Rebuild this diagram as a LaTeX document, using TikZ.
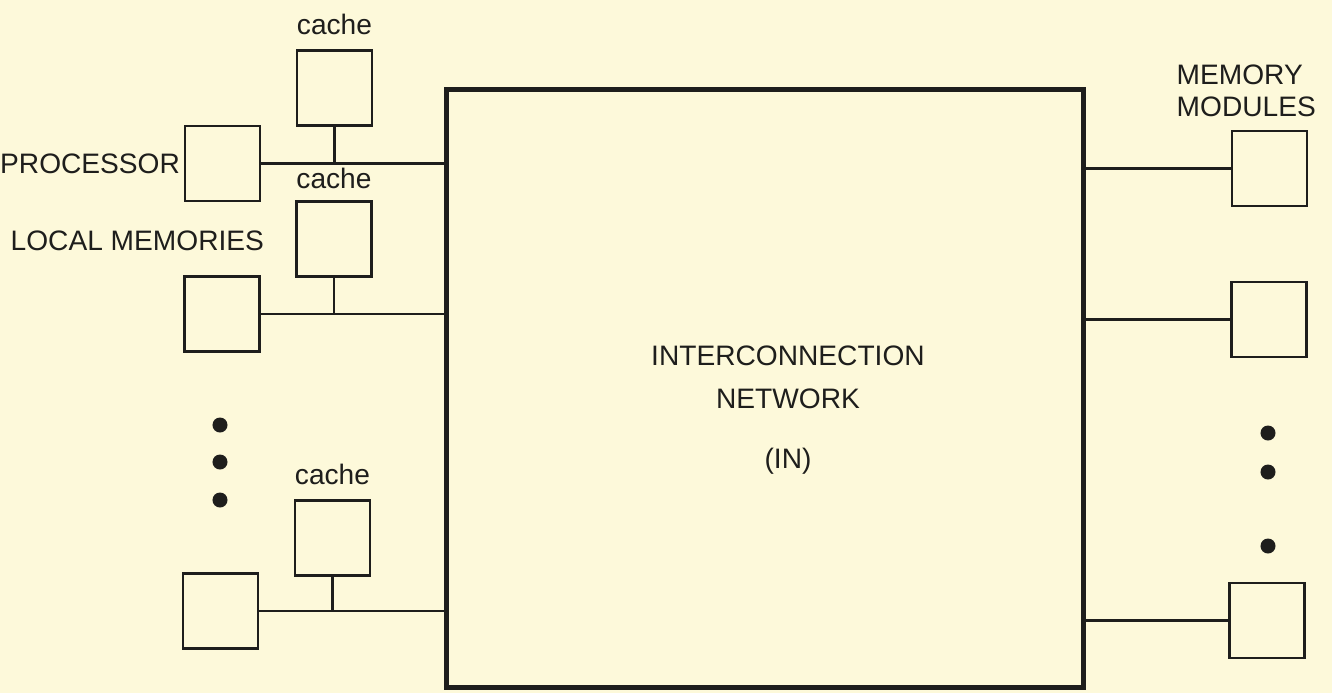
\documentclass[tikz,border=0pt]{standalone}
\usepackage{fontspec}
\setmainfont{Liberation Sans}
\usepackage{xcolor}
\usetikzlibrary{positioning}
\definecolor{paper}{RGB}{253,249,218}
\definecolor{ink}{RGB}{30,30,28}

\begin{document}
\begin{tikzpicture}[x=0.01cm, y=-0.01cm, ink,
    unit/.style={draw, line width=0.75pt, minimum size=0.75cm, inner sep=0pt},
    lbl/.style={font=\fontsize{8}{9.1}\selectfont, inner sep=0pt},
    dot/.style={circle, fill, inner sep=0pt, minimum size=0.15cm},
    wire/.style={line width=0.75pt}]
  \fill[paper] (0,0) rectangle (1332,693);

  % interconnection network
  \node[draw, line width=1.4pt, minimum width=6.36cm, minimum height=5.97cm] (net) at (765,388.5) {};
  \node[lbl, anchor=base] (netA) at (788,365) {INTERCONNECTION};
  \node[lbl, anchor=base] (netB) at (788,408) {NETWORK};
  \node[lbl, anchor=base] (netC) at (788,468) {(IN)};

  % processor 1 with cache
  \node[unit] (proc1) at (222.5,163.5) {};
  \node[unit] (cache1) at (334.5,88) {};
  \node[lbl, above=0.14cm of cache1] (cacheA) {cache};
  \node[lbl, left=0.03cm of proc1] (proclbl) {PROCESSOR};
  \draw[wire] (proc1) -- (proc1 -| net.west);
  \draw[wire] (cache1) -- (cache1 |- proc1);

  % processor 2 with cache
  \node[lbl, anchor=base west] (locallbl) at (10,250) {LOCAL MEMORIES};
  \node[unit] (proc2) at (222,314) {};
  \node[unit] (cache2) at (334,239) {};
  \node[lbl, above=0.11cm of cache2] (cacheB) {cache};
  \draw[wire] (proc2) -- (proc2 -| net.west);
  \draw[wire] (cache2) -- (cache2 |- proc2);

  \node[dot] (ldot1) at (220,425) {};
  \node[dot] (ldot2) at (220,462) {};
  \node[dot] (ldot3) at (220,500) {};

  % processor n with cache
  \node[unit] (proc3) at (220.5,611) {};
  \node[unit] (cache3) at (332.5,538) {};
  \node[lbl, above=0.14cm of cache3] (cacheC) {cache};
  \draw[wire] (proc3) -- (proc3 -| net.west);
  \draw[wire] (cache3) -- (cache3 |- proc3);

  % memory modules
  \node[lbl, anchor=north west, align=left] (memlbl) at (1176,64) {MEMORY\\MODULES};
  \node[unit] (mem1) at (1269.5,168.5) {};
  \node[unit] (mem2) at (1269,319.5) {};
  \node[unit] (mem3) at (1267,620.5) {};
  \draw[wire] (net.east |- mem1) -- (mem1);
  \draw[wire] (net.east |- mem2) -- (mem2);
  \draw[wire] (net.east |- mem3) -- (mem3);

  \node[dot] (rdot1) at (1268,433) {};
  \node[dot] (rdot2) at (1268,472) {};
  \node[dot] (rdot3) at (1268,546) {};
\end{tikzpicture}
\end{document}
